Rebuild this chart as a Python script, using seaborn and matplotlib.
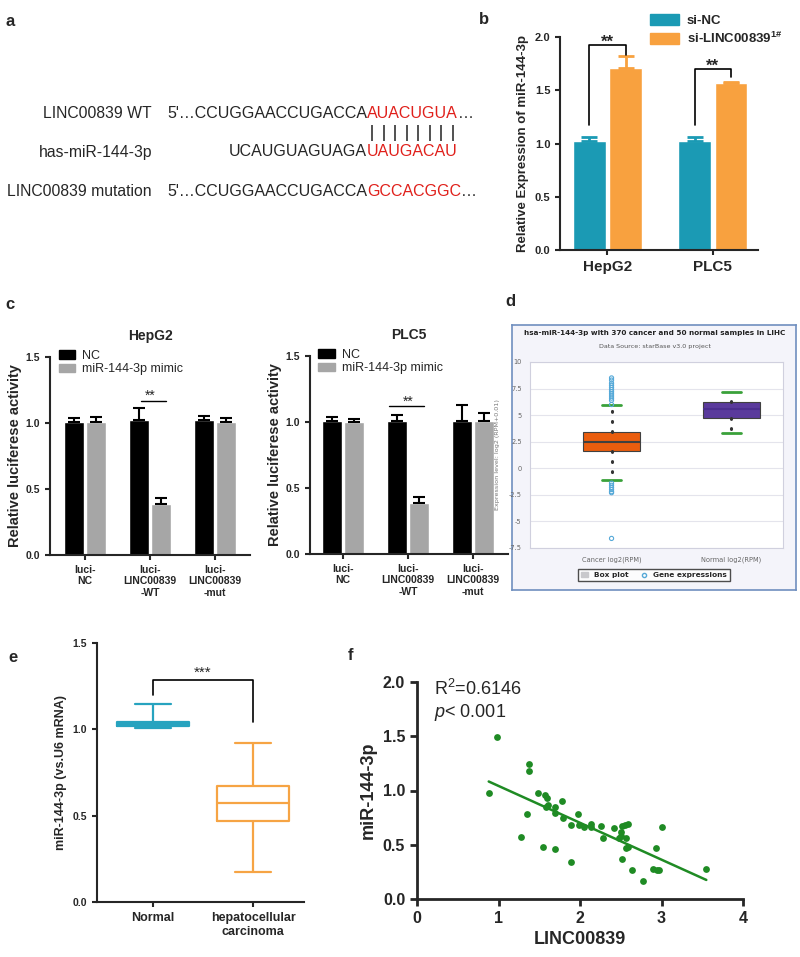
import matplotlib.pyplot as plt
import matplotlib.patches as mpatches
from matplotlib.lines import Line2D
import pandas as pd
import seaborn as sns
import numpy as np

sns.set_style("ticks")
plt.rcParams['font.family'] = ['Liberation Sans', 'DejaVu Sans']
plt.rcParams['mathtext.fontset'] = 'custom'
plt.rcParams['mathtext.rm'] = 'Liberation Sans'
plt.rcParams['mathtext.it'] = 'Liberation Sans:italic'
plt.rcParams['mathtext.bf'] = 'Liberation Sans:bold'
plt.rcParams['axes.linewidth'] = 1.5
plt.rcParams['xtick.major.width'] = 1.5
plt.rcParams['ytick.major.width'] = 1.5
plt.rcParams['xtick.major.size'] = 3.5
plt.rcParams['ytick.major.size'] = 3.5

# ---- data ----
# a: sequences
seq_labels = ["LINC00839 WT", "has-miR-144-3p", "LINC00839 mutation"]
seq_black = ["5'…CCUGGAACCUGACCA", "UCAUGUAGUAGA", "5'…CCUGGAACCUGACCA"]
seq_red = ["AUACUGUA", "UAUGACAU", "GCCACGGC"]
seq_tail = ["…", "", "…"]

# b: qPCR miR-144-3p
b_cells = ["HepG2", "PLC5"]
b_groups = ["si-NC", "si-LINC00839"]
b_nc = [1.02, 1.02]
b_nc_err = [0.04, 0.04]
b_si = [1.71, 1.57]
b_si_err = [0.11, 0.01]

# c: luciferase
c_constructs = ["luci-\nNC", "luci-\nLINC00839\n-WT", "luci-\nLINC00839\n-mut"]
c_groups = ["NC", "miR-144-3p mimic"]
c_hep_nc = [1.01, 1.02, 1.02]
c_hep_nc_err = [0.03, 0.09, 0.035]
c_hep_mim = [1.01, 0.39, 1.005]
c_hep_mim_err = [0.035, 0.04, 0.03]
c_plc_nc = [1.01, 1.01, 1.01]
c_plc_nc_err = [0.03, 0.04, 0.12]
c_plc_mim = [1.00, 0.385, 1.01]
c_plc_mim_err = [0.02, 0.045, 0.06]

# d: starBase box plot (whisker low, Q1, median, Q3, whisker high)
d_groups = ["Cancer log2(RPM)", "Normal log2(RPM)"]
d_cancer = [-1.1, 1.6, 2.45, 3.4, 6.0]
d_normal = [3.3, 4.7, 5.6, 6.2, 7.2]
d_cancer_out = [6.0, 6.4, 6.6, 6.8, 7.0, 7.2, 7.4, 7.6, 7.8, 8.0, 8.3, 8.5,
                -1.4, -1.6, -1.8, -2.0, -2.2, -2.3, -6.6]

# e: tissue box plot (min, Q1, median, Q3, max)
e_groups = ["Normal", "hepatocellular\ncarcinoma"]
e_normal = [1.005, 1.02, 1.03, 1.045, 1.147]
e_hcc = [0.175, 0.47, 0.575, 0.67, 0.92]

# f: correlation
f_linc = [0.98, 0.88, 1.38, 1.38, 1.35, 1.28, 1.49, 1.57, 1.59, 1.58, 1.61, 1.69,
          1.69, 1.78, 1.79, 1.55, 1.69, 1.89, 1.89, 1.97, 1.99, 2.05, 2.14, 2.14,
          2.26, 2.28, 2.42, 2.50, 2.50, 2.48, 2.52, 2.55, 2.59, 2.57, 2.56, 2.59,
          2.52, 2.64, 2.77, 2.89, 2.93, 2.94, 2.97, 3.00, 3.55]
f_mir = [1.49, 0.98, 1.24, 1.18, 0.78, 0.57, 0.98, 0.955, 0.93, 0.85, 0.87, 0.845,
         0.79, 0.90, 0.75, 0.48, 0.46, 0.34, 0.68, 0.78, 0.68, 0.66, 0.69, 0.66,
         0.675, 0.56, 0.65, 0.62, 0.58, 0.56, 0.675, 0.685, 0.69, 0.56, 0.47, 0.475,
         0.37, 0.27, 0.17, 0.28, 0.47, 0.27, 0.27, 0.66, 0.28]

W, H = 800, 957
fig = plt.figure(figsize=(8, 9.57), dpi=100)


def box(l, t, r, b):
    return [l / W, 1 - b / H, (r - l) / W, (b - t) / H]


def fpos(x, y):
    return x / W, 1 - y / H


def bold_ticks(ax, xs, ys):
    for t in ax.get_xticklabels():
        t.set_fontweight('bold')
        t.set_fontsize(xs)
    for t in ax.get_yticklabels():
        t.set_fontweight('bold')
        t.set_fontsize(ys)


def add_errs(ax, errs, colors=None, capsize=4.5, lw=1.5):
    for i, (p, e) in enumerate(zip(ax.patches, errs)):
        x = p.get_x() + p.get_width() / 2
        h = p.get_height()
        c = colors[i] if colors else p.get_facecolor()
        ax.errorbar(x, h, yerr=[[0], [e]], color=c, capsize=capsize,
                    elinewidth=lw, capthick=lw, zorder=1)


# ---- panel labels ----
for lab, (x, y) in {"a": (5, 22), "b": (479, 20), "c": (5, 305), "d": (505, 302),
                    "e": (8, 657), "f": (348, 655)}.items():
    fig.text(*fpos(x, y), lab, fontsize=12, fontweight='bold', va='center')

# ---- a ----
ax_a = fig.add_axes(box(0, 0, 480, 230))
ax_a.set_xlim(0, 480)
ax_a.set_ylim(230, 0)
ax_a.axis('off')
for lab, blk, red, tail, y in zip(seq_labels, seq_black, seq_red, seq_tail, [113, 152, 191]):
    ax_a.text(152, y, lab, ha='right', va='center', fontsize=11.3)
    ax_a.text(367, y, blk, ha='right', va='center', fontsize=11.5)
    t = ax_a.text(367, y, red, ha='left', va='center', fontsize=11.5, color='#e0201b')
    if tail:
        ax_a.annotate(tail, xy=(1, 0.5), xycoords=t, ha='left', va='center', fontsize=11.5)
ax_a.vlines(np.linspace(372, 453, 8), 125, 141, color='#333333', lw=1.2)

# ---- b ----
ax_b = fig.add_axes(box(560, 37, 758, 250))
df_b = pd.DataFrame({"cell": b_cells * 2,
                     "group": [b_groups[0]] * 2 + [b_groups[1]] * 2,
                     "val": b_nc + b_si, "err": b_nc_err + b_si_err})
b_colors = ["#1b9ab4", "#f8a13f"]
sns.barplot(data=df_b, x="cell", y="val", hue="group", palette=b_colors, width=0.69,
            gap=0.1, errorbar=None, saturation=1, legend=False, ax=ax_b)
add_errs(ax_b, df_b["err"], capsize=6, lw=2)
xb = [p.get_x() + p.get_width() / 2 for p in ax_b.patches]
ax_b.plot([xb[0], xb[0], xb[2], xb[2]], [1.17, 1.925, 1.925, 1.83], color='k', lw=1.2)
ax_b.text((xb[0] + xb[2]) / 2, 1.95, "**", ha='center', va='center', fontsize=12, fontweight='bold')
ax_b.plot([xb[1], xb[1], xb[3], xb[3]], [1.17, 1.70, 1.70, 1.62], color='k', lw=1.2)
ax_b.text((xb[1] + xb[3]) / 2, 1.725, "**", ha='center', va='center', fontsize=12, fontweight='bold')
ax_b.set_ylim(0, 2.0)
ax_b.set_xlim(-0.45, 1.43)
ax_b.set_yticks([0, 0.5, 1.0, 1.5, 2.0])
ax_b.set_yticklabels(["0.0", "0.5", "1.0", "1.5", "2.0"])
ax_b.set_xlabel("")
ax_b.set_ylabel("Relative Expression of miR-144-3p", fontsize=9.5, fontweight='bold')
bold_ticks(ax_b, 11, 8)
sns.despine(ax=ax_b)
fig.legend([mpatches.Patch(color=c) for c in b_colors],
           ["si-NC", r"si-LINC00839$^{\mathbf{1\#}}$"],
           loc='upper left', bbox_to_anchor=fpos(650, 14), frameon=False,
           prop={'weight': 'bold', 'size': 9.5}, handlelength=2.2, handleheight=0.9,
           labelspacing=0.3, borderaxespad=0, borderpad=0, handletextpad=0.6)


# ---- c ----
def draw_c(rect, nc, nc_err, mim, mim_err, title, sig_y, sig_off, xlim):
    ax = fig.add_axes(box(*rect))
    df = pd.DataFrame({"construct": c_constructs * 2,
                       "group": [c_groups[0]] * 3 + [c_groups[1]] * 3,
                       "val": nc + mim, "err": nc_err + mim_err})
    cols = ["#000000", "#a6a6a6"]
    sns.barplot(data=df, x="construct", y="val", hue="group", palette=cols, width=0.69,
                gap=0.1, errorbar=None, saturation=1, legend=False, ax=ax)
    add_errs(ax, df["err"], colors=["#000000"] * 6, capsize=4.5, lw=1.5)
    xs = [p.get_x() + p.get_width() / 2 for p in ax.patches]
    ax.plot([xs[1] + sig_off[0], xs[4] + sig_off[1]], [sig_y, sig_y], color='k', lw=1)
    ax.text((xs[1] + xs[4]) / 2, sig_y + 0.035, "**", ha='center', va='center', fontsize=10)
    ax.set_ylim(0, 1.5)
    ax.set_xlim(*xlim)
    ax.set_yticks([0, 0.5, 1.0, 1.5])
    ax.set_yticklabels(["0.0", "0.5", "1.0", "1.5"])
    ax.set_xlabel("")
    ax.set_ylabel("Relative luciferese activity", fontsize=10.5, fontweight='bold', labelpad=3)
    ax.set_title(title, fontsize=10, fontweight='bold', pad=12)
    bold_ticks(ax, 7.5, 7.5)
    ax.legend([mpatches.Patch(color=c) for c in cols], c_groups, loc='upper left',
              bbox_to_anchor=(0.03, 1.05), frameon=False, fontsize=9, handlelength=1.3,
              handleheight=0.7, labelspacing=0.15, borderpad=0, handletextpad=0.6,
              borderaxespad=0.2)
    sns.despine(ax=ax)
    return ax


draw_c((50, 357, 250, 555), c_hep_nc, c_hep_nc_err, c_hep_mim, c_hep_mim_err,
       "HepG2", 1.17, (0.04, 0.07), (-0.54, 2.54))
draw_c((310, 356, 508, 554), c_plc_nc, c_plc_nc_err, c_plc_mim, c_plc_mim_err,
       "PLC5", 1.12, (-0.12, 0.07), (-0.51, 2.54))

# ---- d ----
ax_df = fig.add_axes(box(512, 325, 796, 590))
ax_df.set_facecolor('#f4f4fa')
ax_df.set_xticks([])
ax_df.set_yticks([])
for s in ax_df.spines.values():
    s.set_color('#6f8fbf')
    s.set_linewidth(1.2)
fig.text(*fpos(655, 333), "hsa-miR-144-3p with 370 cancer and 50 normal samples in LIHC",
         ha='center', va='center', fontsize=5.2, fontweight='bold', family='DejaVu Sans',
         color='#222222')
fig.text(*fpos(655, 347), "Data Source: starBase v3.0 project", ha='center', va='center',
         fontsize=4.6, family='DejaVu Sans', color='#555555')

ax_d = fig.add_axes(box(530, 362, 783, 548))
ax_d.set_facecolor('white')
df_d = pd.DataFrame({"group": [d_groups[0]] * 5 + [d_groups[1]] * 5, "val": d_cancer + d_normal})
sns.boxplot(data=df_d, x="group", y="val", hue="group", palette=["#ea5d0e", "#5a3a9c"],
            saturation=1, whis=(0, 100), width=0.48, linewidth=0.8, showfliers=False,
            legend=False, ax=ax_d, capwidths=0.16,
            medianprops={'color': '#404040', 'lw': 1.5},
            whiskerprops={'color': '#333333', 'linestyle': (0, (0.3, 3)), 'lw': 2.2,
                          'dash_capstyle': 'round'},
            capprops={'color': '#3aa13a', 'lw': 2})
for ln in ax_d.lines:
    y = ln.get_ydata()
    if len(y) == 2 and np.allclose(y, d_normal[2]):
        ln.set_color('#4b2e8e')
ax_d.scatter([0] * len(d_cancer_out), d_cancer_out, facecolors='none', edgecolors='#56a9d8',
             s=9, lw=0.8, zorder=3)
ax_d.set_ylim(-7.5, 10)
ax_d.set_xlim(-0.68, 1.43)
yt = [10, 7.5, 5, 2.5, 0, -2.5, -5, -7.5]
ax_d.set_yticks(yt)
ax_d.set_yticklabels(['10', '7.5', '5', '2.5', '0', '-2.5', '-5', '-7.5'])
ax_d.tick_params(length=0, labelsize=4.8, labelcolor='#666666', pad=6)
for t in ax_d.get_xticklabels() + ax_d.get_yticklabels():
    t.set_family('DejaVu Sans')
ax_d.set_xlabel("")
ax_d.set_ylabel("Expression level: log2 (RPM+0.01)", fontsize=4.6, color='#777777',
                family='DejaVu Sans', labelpad=6)
ax_d.grid(axis='y', color='#e4e4ec', lw=0.8)
ax_d.set_axisbelow(True)
for s in ax_d.spines.values():
    s.set_color('#d0d0de')
    s.set_linewidth(0.8)
leg_d = fig.legend([mpatches.Patch(color='#c8c8cc'),
                    Line2D([], [], marker='o', ls='none', mfc='none', mec='#56a9d8', ms=3)],
                   ["Box plot", "Gene expressions"], loc='center', bbox_to_anchor=fpos(654, 575),
                   ncol=2, frameon=True, fancybox=False, edgecolor='#222222',
                   prop={'family': 'DejaVu Sans', 'weight': 'bold', 'size': 5.3},
                   handlelength=1.0, handleheight=0.8, columnspacing=1.5, borderpad=0.4)
leg_d.get_frame().set_linewidth(1)

# ---- e ----
ax_e = fig.add_axes(box(97, 643, 304, 902))
df_e = pd.DataFrame({"group": [e_groups[0]] * 5 + [e_groups[1]] * 5, "val": e_normal + e_hcc})
sns.boxplot(data=df_e, x="group", y="val", hue="group", palette=["#27a3bf", "#f6a444"],
            fill=False, whis=(0, 100), width=0.72, linewidth=1.6, showfliers=False,
            legend=False, ax=ax_e)
ax_e.plot([0, 0, 1, 1], [1.2, 1.285, 1.285, 1.04], color='k', lw=1.2)
ax_e.text(0.5, 1.33, "***", ha='center', va='center', fontsize=11)
ax_e.set_ylim(0, 1.5)
ax_e.set_xlim(-0.56, 1.51)
ax_e.set_yticks([0, 0.5, 1.0, 1.5])
ax_e.set_yticklabels(["0.0", "0.5", "1.0", "1.5"])
ax_e.set_xlabel("")
ax_e.set_ylabel("miR-144-3p (vs.U6 mRNA)", fontsize=9, fontweight='bold')
bold_ticks(ax_e, 9, 7.5)
sns.despine(ax=ax_e)

# ---- f ----
ax_f = fig.add_axes(box(417, 682, 743, 899))
sns.regplot(x=f_linc, y=f_mir, ci=None, color='#1f8b24', truncate=True,
            scatter_kws={'s': 24, 'linewidths': 0, 'alpha': 1}, line_kws={'lw': 1.8}, ax=ax_f)
ax_f.set_xlim(0, 4)
ax_f.set_ylim(0, 2.0)
ax_f.set_xticks([0, 1, 2, 3, 4])
ax_f.set_yticks([0, 0.5, 1.0, 1.5, 2.0])
ax_f.set_yticklabels(["0.0", "0.5", "1.0", "1.5", "2.0"])
ax_f.tick_params(width=2, length=5)
for s in ax_f.spines.values():
    s.set_linewidth(2)
ax_f.text(0.21, 1.94, r"R$^2$=0.6146", fontsize=13, va='center')
ax_f.text(0.21, 1.72, r"$p$< 0.001", fontsize=13, va='center')
ax_f.set_xlabel("LINC00839", fontsize=13, fontweight='bold')
ax_f.set_ylabel("miR-144-3p", fontsize=13, fontweight='bold')
bold_ticks(ax_f, 11.5, 11.5)
sns.despine(ax=ax_f)

fig.savefig("out.png", dpi=100)
